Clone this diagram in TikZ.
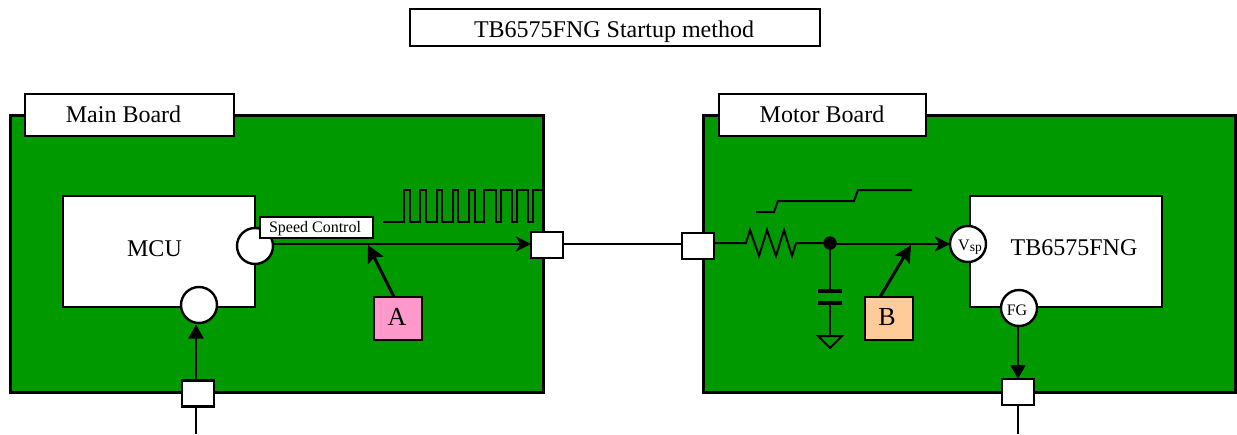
\documentclass[tikz,border=0pt]{standalone}
\usepackage{fontspec}
\setmainfont{Liberation Serif}
\usetikzlibrary{arrows.meta}
\tikzset{
  every node/.style={inner sep=0pt,outer sep=0pt,text=black,font=\fontsize{24}{26}\selectfont},
  txt/.style={anchor=base},
  rbox/.style={draw=black,line width=2.4pt,fill=white,minimum width=#1},
  board/.style={draw=black,line width=3pt,fill=board},
  pin/.style={circle,draw=black,line width=2.4pt,fill=white,minimum size=36pt},
  port/.style={draw=black,line width=2.4pt,fill=white,minimum width=32pt,minimum height=26pt},
  wire/.style={draw=black,line width=2.5pt},
  sig/.style={draw=black,line width=2pt,line join=miter},
  arrowv/.style={wire,-{Triangle[length=14pt,width=15pt]}},
  arrowh/.style={wire,-{Stealth[length=15pt,width=15pt,inset=4pt]}},
  pointer/.style={draw=black,line width=3pt,-{Stealth[length=17pt,width=17pt,inset=3pt]}}
}
\definecolor{board}{HTML}{009900}
\definecolor{apink}{HTML}{FF99CC}
\definecolor{borange}{HTML}{FFCC99}
\begin{document}
\begin{tikzpicture}[x=1pt,y=-1pt]
\useasboundingbox (0,0) rectangle (1237,434);
\fill[white] (0,0) rectangle (1237,434);
% title
\node[rbox=410pt,minimum height=37pt] (title) at (615,27.5) {};
\node[txt] (titletext) at (614,37.7) {TB6575FNG Startup method};
% boards
\node[board,minimum width=533pt,minimum height=277pt] (main) at (276.5,253.5) {};
\node[board,minimum width=532pt,minimum height=277pt] (motor) at (969.5,253.5) {};
\node[rbox=209pt,minimum height=42pt] (mainlabel) at (129.5,115) {};
\node[txt] (maintext) at (123.5,122.7) {Main Board};
\node[rbox=207pt,minimum height=42pt] (motorlabel) at (822.5,115) {};
\node[txt] (motortext) at (822,122.7) {Motor Board};
% chips
\node[rbox=192pt,minimum height=111pt] (mcu) at (159,251.5) {};
\node[txt] (mcutext) at (154.5,256) {MCU};
\node[rbox=192pt,minimum height=111pt] (tb) at (1066,251.5) {};
\node[txt] (tbtext) at (1074,255.7) {TB6575FNG};
% pins
\node[pin] (out) at (255,246) {};
\node[pin] (in) at (199,305) {};
\node[pin] (vsp) at (968,244) {};
\node[txt,font=\fontsize{16}{18}\selectfont] (vsptext) at (970,250) {V\raisebox{-1pt}{\fontsize{13.5}{14}\selectfont sp}};
\node[pin] (fg) at (1019,308) {};
\node[txt,font=\fontsize{16}{18}\selectfont] (fgtext) at (1017,315) {FG};
% ports
\node[port] (p1) at (198,393.5) {};
\node[port] (p2) at (547,245) {};
\node[port] (p3) at (698,246) {};
\node[port] (p4) at (1018,392) {};
% free ends
\coordinate (lb) at (196,434);
\coordinate (rb) at (1018,434);
% connectors
\draw[wire] (196,407) -- (lb);
\draw[arrowv] (196,380) -- (196,324.5);
\draw[wire] (1018,405) -- (rb);
\draw[arrowv] (1018,327) -- (1018,379);
\draw[arrowh] (out.east |- 0,244) -- (p2.west |- 0,244);
\draw[wire] (p2.east |- 0,244) -- (p3.west |- 0,244);
% speed label
\node[rbox=113pt,minimum height=21pt,line width=2pt] (speed) at (316.5,227.5) {};
\node[txt,font=\fontsize{16}{18}\selectfont] (speedtext) at (315,232) {Speed Control};
% pulse
\draw[sig] (383,222) -- (404,222) -- (404,190) -- (410,190) -- (410,222) -- (420,222) -- (420,190) -- (426,190) -- (426,222) -- (437,222) -- (437,190) -- (442,190) -- (442,222) -- (453,222) -- (453,190) -- (458,190) -- (458,222) -- (469,222) -- (469,190) -- (475,190) -- (475,222) -- (484,222) -- (484,190) -- (496,190) -- (496,222) -- (501,222) -- (501,190) -- (512,190) -- (512,222) -- (517,222) -- (517,190) -- (528,190) -- (528,222) -- (533,222) -- (533,190) -- (543,190);
% A
\node[draw=black,line width=2.4pt,fill=apink,minimum width=48pt,minimum height=43pt] (a) at (398,318.5) {};
\node[txt,font=\fontsize{26}{28}\selectfont] (atext) at (397,325) {A};
\coordinate (atail) at (394,297);
\coordinate (ahead) at (368,245);
\draw[pointer] (atail) -- (ahead);
% RC
\coordinate (rc) at (830,243);
\draw[sig] (p3.east |- 0,243) -- (746,243) -- (750,230) -- (759,256) -- (767,230) -- (776,256) -- (784,230) -- (792,256) -- (796,243) -- (rc);
\fill[black] (rc) circle (6.7pt);
\draw[arrowh] (rc |- 0,244) -- (vsp.west |- 0,244);
\coordinate (c1) at (830,291);
\coordinate (c2) at (830,303);
\coordinate (g) at (830,336);
\draw[wire] (rc) -- (c1);
\draw[wire] (c2) -- (g);
\draw[draw=black,line width=3.5pt] (818,291) -- (842,291);
\draw[draw=black,line width=3.5pt] (818,303) -- (842,303);
\draw[sig,line join=miter] (818,336) -- (842,336) -- (830,348) -- cycle;
% ramp
\draw[sig] (756,212) -- (774,212) -- (778,201) -- (854,201) -- (858,190) -- (912,190);
% B
\node[draw=black,line width=2.4pt,fill=borange,minimum width=48pt,minimum height=43pt] (b) at (889,318.5) {};
\node[txt,font=\fontsize{26}{28}\selectfont] (btext) at (887,325) {B};
\coordinate (btail) at (880,297);
\coordinate (bhead) at (911,245);
\draw[pointer] (btail) -- (bhead);
\end{tikzpicture}
\end{document}
